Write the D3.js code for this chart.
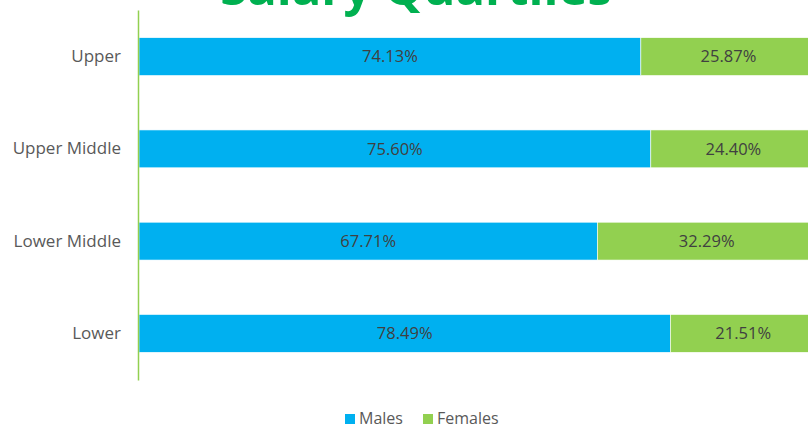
<!DOCTYPE html>
<html>
<head>
<meta charset="utf-8">
<script src="https://cdn.jsdelivr.net/npm/d3@7"></script>
<style>
  body { margin: 0; background: #fff; overflow: hidden; }
  svg { font-family: "Open Sans", "Liberation Sans", sans-serif; }
</style>
</head>
<body>
<div id="chart"></div>
<script>
const quartiles = ["Upper", "Upper Middle", "Lower Middle", "Lower"];
const males = [74.13, 75.60, 67.71, 78.49];
const females = [25.87, 24.40, 32.29, 21.51];
const seriesNames = ["Males", "Females"];
const seriesColors = ["#00b0f0", "#92d050"];

const width = 808, height = 430;
const margin = {top: 10, left: 139, bottom: 50};
const plotWidth = 677;

const svg = d3.select("#chart")
    .append("svg")
    .attr("width", width)
    .attr("height", height);

// title, partly cut off at the top like the reference
svg.append("text")
    .attr("x", 416)
    .attr("y", 5)
    .attr("text-anchor", "middle")
    .style("font-size", "49px")
    .style("font-weight", "bold")
    .style("fill", "#00b050")
    .text("Salary Quartiles");

const x = d3.scaleLinear()
    .domain([0, 100])
    .range([margin.left, margin.left + plotWidth]);
const y = d3.scaleBand()
    .domain(quartiles)
    .range([margin.top, 380])
    .paddingInner(0.59)
    .paddingOuter(0.3);

const rows = quartiles.map((q, i) => ({q: q, values: [males[i], females[i]]}));

const stacked = [];
rows.forEach(r => {
    let start = 0;
    r.values.forEach((v, j) => {
        stacked.push({q: r.q, j: j, x0: start, x1: start + v, v: v});
        start += v;
    });
});

svg.selectAll("rect.bar")
    .data(stacked)
    .join("rect")
    .attr("class", "bar")
    .attr("x", d => x(d.x0))
    .attr("y", d => y(d.q))
    .attr("width", d => x(d.x1) - x(d.x0))
    .attr("height", y.bandwidth())
    .attr("fill", d => seriesColors[d.j])
    .attr("stroke", "#fff")
    .attr("stroke-width", 0.6);

svg.selectAll("text.val")
    .data(stacked)
    .join("text")
    .attr("class", "val")
    .attr("x", d => (x(d.x0) + x(d.x1)) / 2)
    .attr("y", d => y(d.q) + y.bandwidth() / 2)
    .attr("dy", "0.35em")
    .attr("text-anchor", "middle")
    .style("font-size", "16.5px")
    .style("fill", "#404040")
    .text(d => d.v.toFixed(2) + "%");

// category axis
const yAxis = svg.append("g")
    .attr("transform", "translate(" + (margin.left - 1) + ",0)")
    .call(d3.axisLeft(y).tickSize(0).tickPadding(17));
yAxis.select(".domain").attr("stroke", "#92d050").attr("stroke-width", 1.5);
yAxis.selectAll("text")
    .style("font-size", "17px")
    .style("fill", "#595959")
    .style("font-family", "'Open Sans', 'Liberation Sans', sans-serif");

// legend
const legend = svg.append("g");
const legendX = [345, 423];
seriesNames.forEach((name, i) => {
    legend.append("rect")
        .attr("x", legendX[i])
        .attr("y", 414)
        .attr("width", 10)
        .attr("height", 10)
        .attr("fill", seriesColors[i]);
    legend.append("text")
        .attr("x", legendX[i] + 14)
        .attr("y", 418)
        .attr("dy", "0.35em")
        .style("font-size", "16px")
        .style("fill", "#595959")
        .text(name);
});
</script>
</body>
</html>
